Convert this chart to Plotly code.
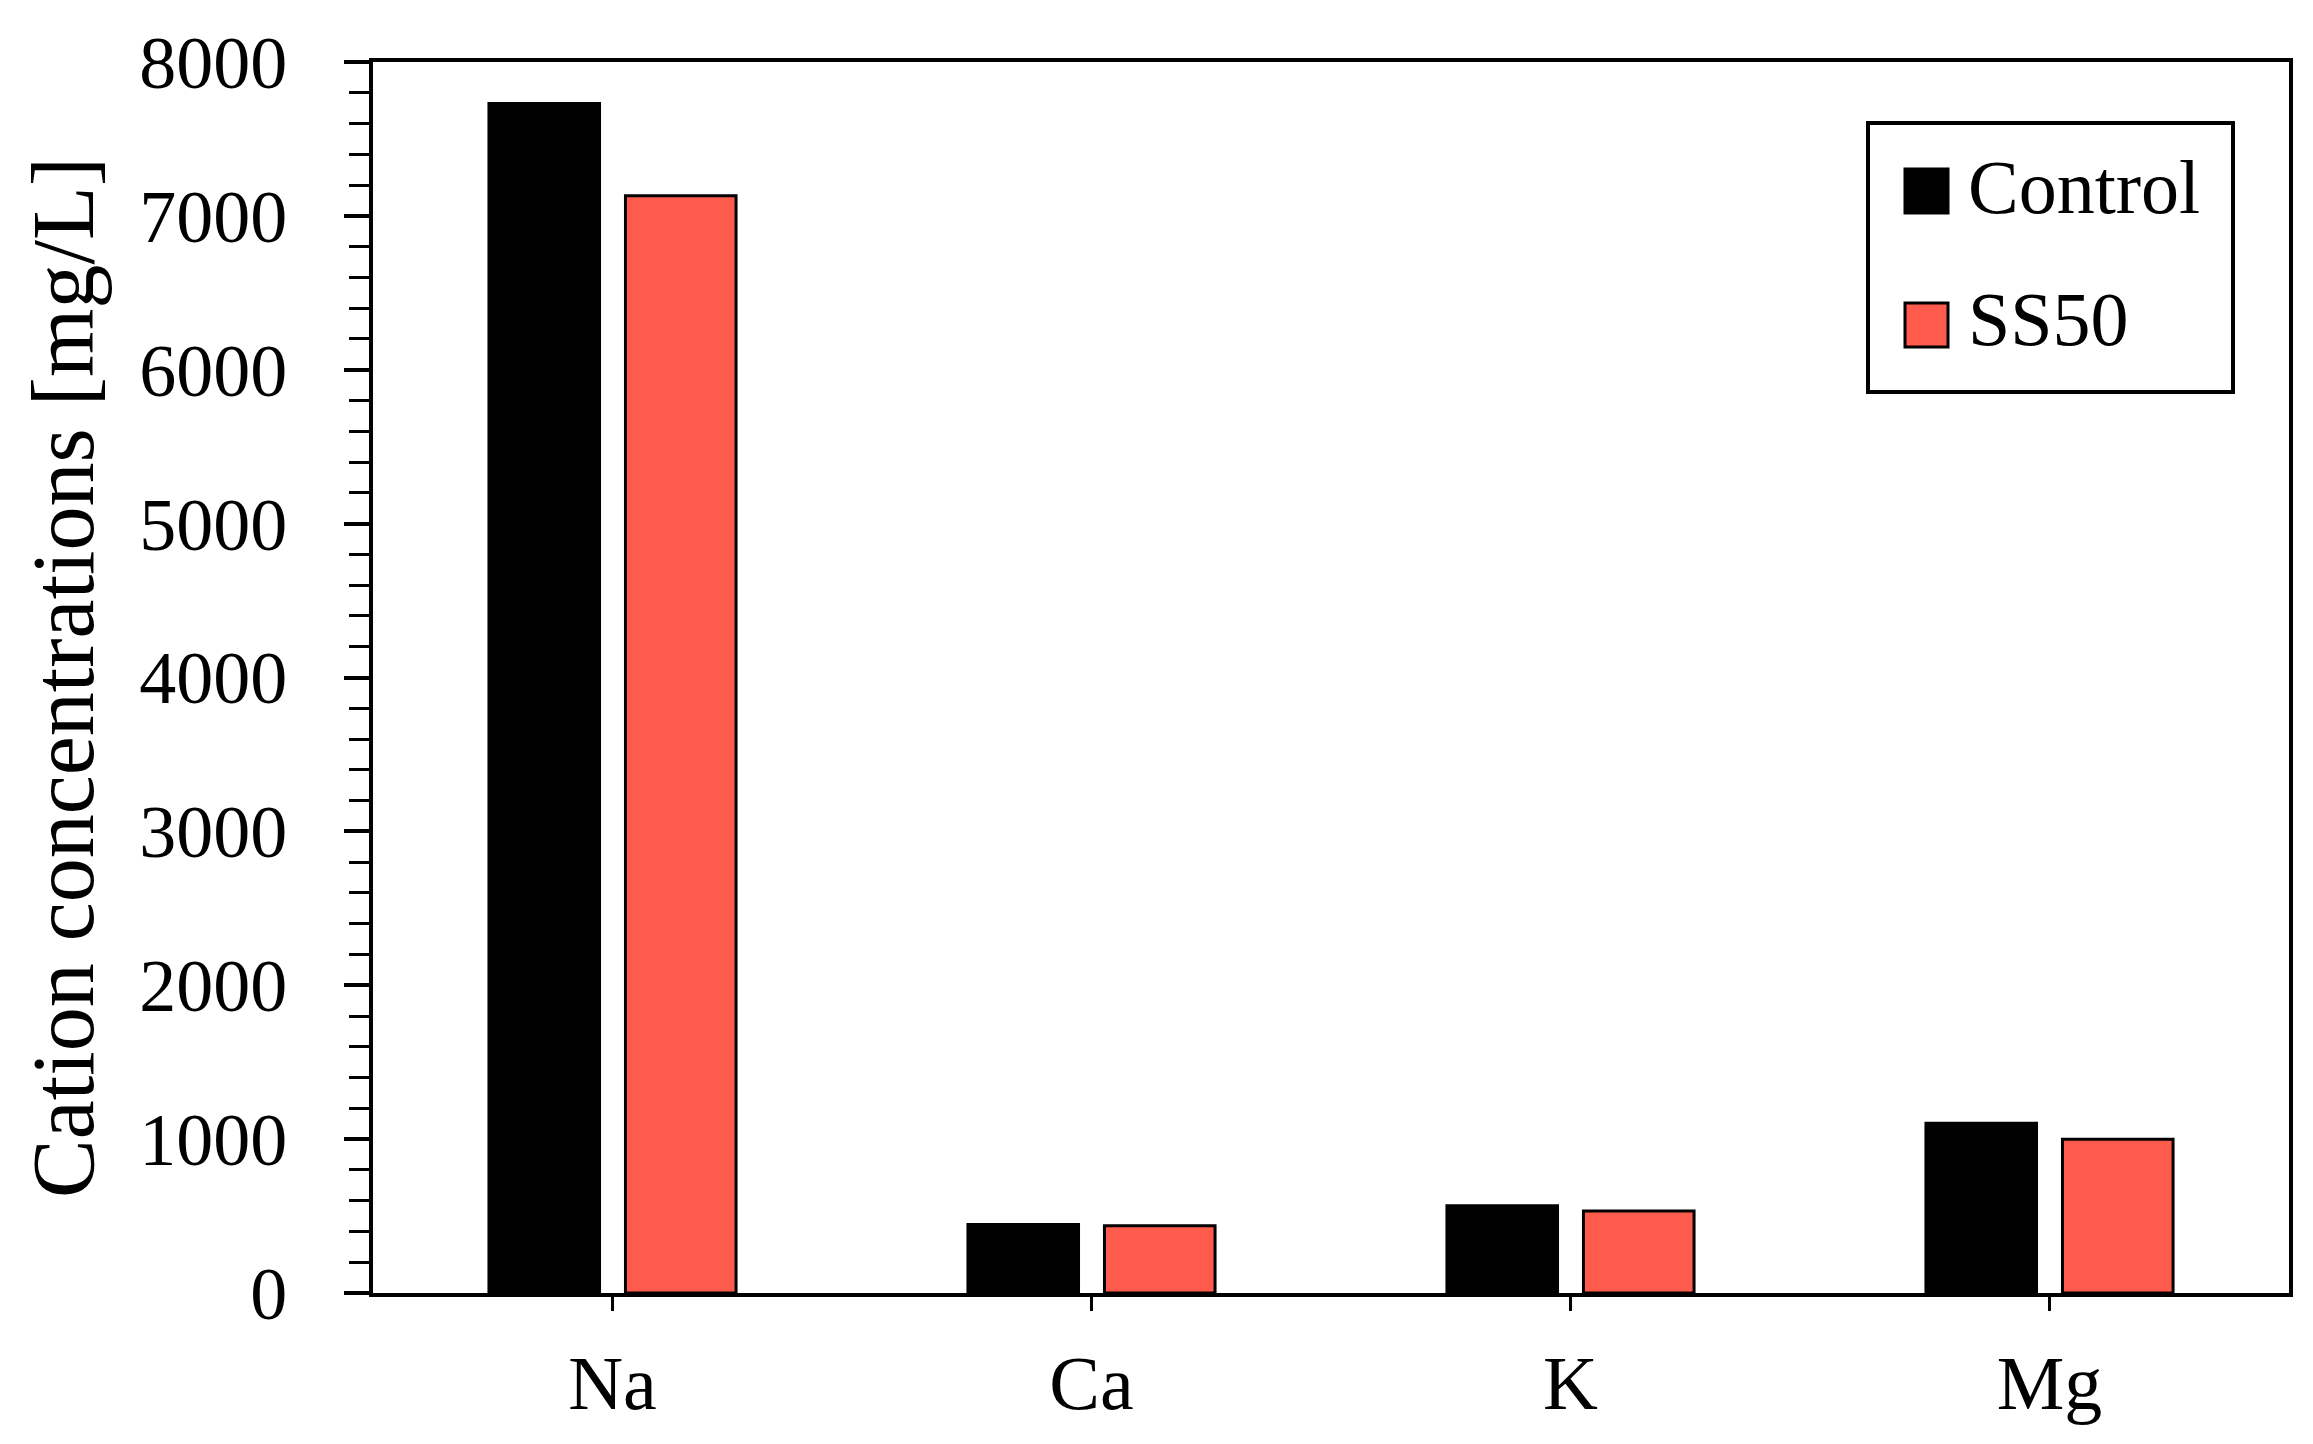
import plotly.graph_objects as go

categories = ["Na", "Ca", "K", "Mg"]
control = [7730, 445, 567, 1103]
ss50 = [7130, 437, 533, 1000]
series_names = ["Control", "SS50"]
y_ticks = [0, 1000, 2000, 3000, 4000, 5000, 6000, 7000, 8000]

BLACK = "#000000"
RED = "#FF5B4D"
FONT = "Liberation Serif"

W, H = 2313, 1444
L, R, T, B = 373, 24, 62, 151
PW, PH = W - L - R, H - T - B

def px_x(p):
    return (p - L) / PW

def px_y(p):
    return (H - B - p) / PH

fig = go.Figure()
fig.add_trace(go.Bar(x=categories, y=control, name=series_names[0],
                     marker=dict(color=BLACK, line=dict(color=BLACK, width=3)),
                     showlegend=False))
fig.add_trace(go.Bar(x=categories, y=ss50, name=series_names[1],
                     marker=dict(color=RED, line=dict(color=BLACK, width=3)),
                     showlegend=False))

# legend entries (symbols hidden under the larger swatches below)
for name, col, grp in [(series_names[0], BLACK, "a"), (series_names[1], RED, "b")]:
    fig.add_trace(go.Scatter(x=[None], y=[None], mode="markers", name=name,
                             legendgroup=grp,
                             marker=dict(symbol="square", size=10, color=col,
                                         line=dict(width=0))))

# legend frame and swatches
fig.add_shape(type="rect", xref="paper", yref="paper",
              x0=px_x(1868), x1=px_x(2233), y0=px_y(392), y1=px_y(123),
              fillcolor="rgba(0,0,0,0)", line=dict(color=BLACK, width=4), layer="above")
for cy, col in [(191, BLACK), (325, RED)]:
    fig.add_shape(type="rect", xref="paper", yref="paper",
                  x0=px_x(1905), x1=px_x(1948), y0=px_y(cy + 22), y1=px_y(cy - 22),
                  fillcolor=col, line=dict(color=BLACK, width=3), layer="above")

fig.update_layout(
    width=W, height=H,
    margin=dict(l=L, r=R, t=T, b=B),
    plot_bgcolor="white", paper_bgcolor="white",
    barmode="group", bargap=0.43, bargroupgap=0.19,
    font=dict(family=FONT, color="black", size=74),
    showlegend=True,
    legend=dict(
        x=px_x(1870), y=px_y(127), xanchor="left", yanchor="top",
        bgcolor="rgba(0,0,0,0)", borderwidth=0,
        font=dict(family=FONT, size=76, color="black"),
        itemwidth=88, tracegroupgap=31,
    ),
)

fig.update_xaxes(
    type="category",
    showline=True, linecolor="black", linewidth=4, mirror=True,
    ticks="outside", ticklen=14, tickwidth=3, tickcolor="black",
    tickfont=dict(family=FONT, size=76, color="black"),
    ticklabelstandoff=7,
    showgrid=False, zeroline=False,
)
fig.update_yaxes(
    range=[0, 8000], tickvals=y_ticks,
    showline=True, linecolor="black", linewidth=4, mirror=True,
    ticks="outside", ticklen=25, tickwidth=3.5, tickcolor="black",
    minor=dict(dtick=200, ticks="outside", ticklen=20, tickwidth=3, tickcolor="black", showgrid=False),
    tickfont=dict(family=FONT, size=74, color="black"),
    ticklabelstandoff=42,
    title=dict(text="Cation concentrations [mg/L]", font=dict(family=FONT, size=88, color="black"), standoff=17),
    showgrid=False, zeroline=False,
)

fig.write_html("out.html", config={"displayModeBar": False},
               post_script="document.body.style.margin='0px';")
